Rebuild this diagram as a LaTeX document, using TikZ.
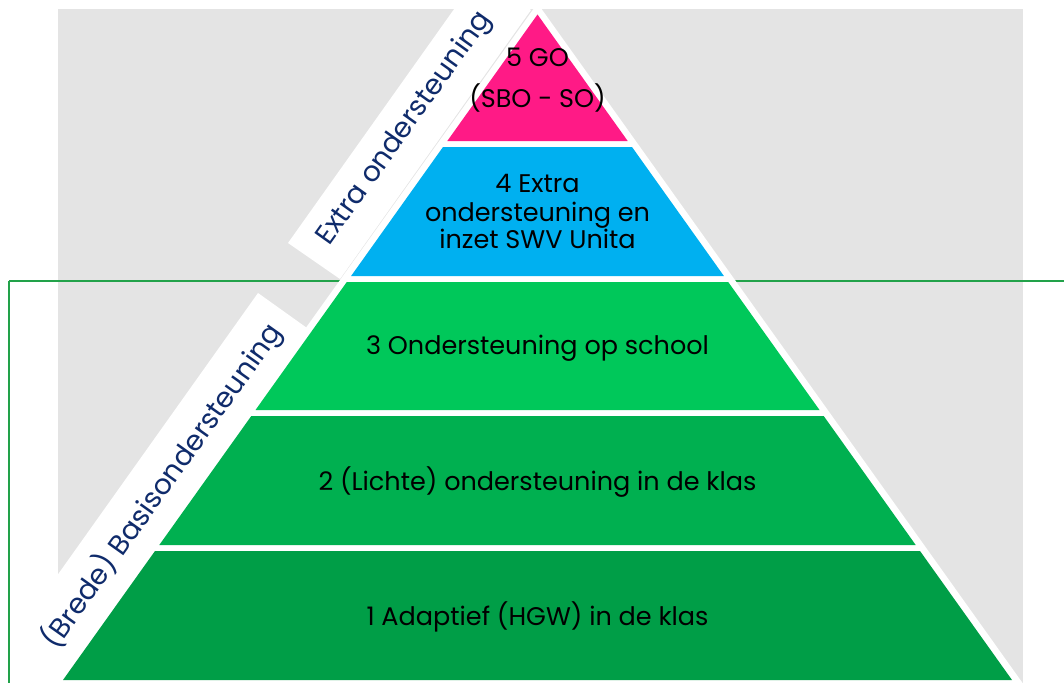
\documentclass[tikz,border=0pt]{standalone}
\usepackage{fontspec}
\setmainfont{Poppins}
\definecolor{bggray}{HTML}{E4E4E4}
\definecolor{pinkL}{HTML}{FF1A86}
\definecolor{blueL}{HTML}{00B0F0}
\definecolor{greenA}{HTML}{00C85A}
\definecolor{greenB}{HTML}{00B050}
\definecolor{greenC}{HTML}{009E47}
\definecolor{frameG}{HTML}{22A24A}
\definecolor{navy}{HTML}{0F2B6B}
\begin{document}
\begin{tikzpicture}[x=1pt,y=-1pt,
  layertxt/.style={anchor=base,inner sep=0pt,text=black,font=\fontsize{25.5}{30}\selectfont},
  bandtxt/.style={inner sep=0pt,text=navy,rotate=54.52,font=\fontsize{28}{32}\selectfont}]
\useasboundingbox (0,0) rectangle (1064,682);
\clip (0,0) rectangle (1064,682);
% gray background
\fill[bggray] (58,9) rectangle (1023,690);
% bands
\fill[white] (288,243) -- (340,279) -- ++(191,-269) -- ++(-52,-36) -- cycle;
\fill[white] (258,293) -- (307,328) -- ++(-300,422) -- ++(-49,-35) -- cycle;
% frame
\draw[frameG,line width=1.3pt] (9,281) -- (1070,281);
\draw[frameG,line width=1.3pt] (9,281) -- (9,690);
% white pyramid outline
\fill[white] (537.5,3.3) -- (1024,685) -- (51,685) -- cycle;
% layers
\fill[pinkL] (537.5,14.5) -- (627.7,141) -- (447.3,141) -- cycle;
\fill[blueL] (443,147) -- (632,147) -- (723.9,276) -- (351.1,276) -- cycle;
\fill[greenA] (346.8,282) -- (728.2,282) -- (819.5,410) -- (255.5,410) -- cycle;
\fill[greenB] (251.3,416) -- (823.7,416) -- (915.7,545) -- (159.3,545) -- cycle;
\fill[greenC] (155,551) -- (920,551) -- (1012,680) -- (63,680) -- cycle;
% texts
\node[layertxt] (l5a) at (537.5,67) {5 GO};
\node[layertxt] (l5b) at (537.5,108) {(SBO - SO)};
\node[layertxt] (l4a) at (537.5,192.5) {4 Extra};
\node[layertxt] (l4b) at (537.5,221) {ondersteuning en};
\node[layertxt] (l4c) at (537.5,248) {inzet SWV Unita};
\node[layertxt] (l3) at (537.5,354) {3 Ondersteuning op school};
\node[layertxt] (l2) at (537.5,490) {2 (Lichte) ondersteuning in de klas};
\node[layertxt] (l1) at (537.5,625) {1 Adaptief (HGW) in de klas};
\node[bandtxt] (b1) at (405,129) {Extra ondersteuning};
\node[bandtxt] (b2) at (162,486) {(Brede) Basisondersteuning};
\end{tikzpicture}
\end{document}
